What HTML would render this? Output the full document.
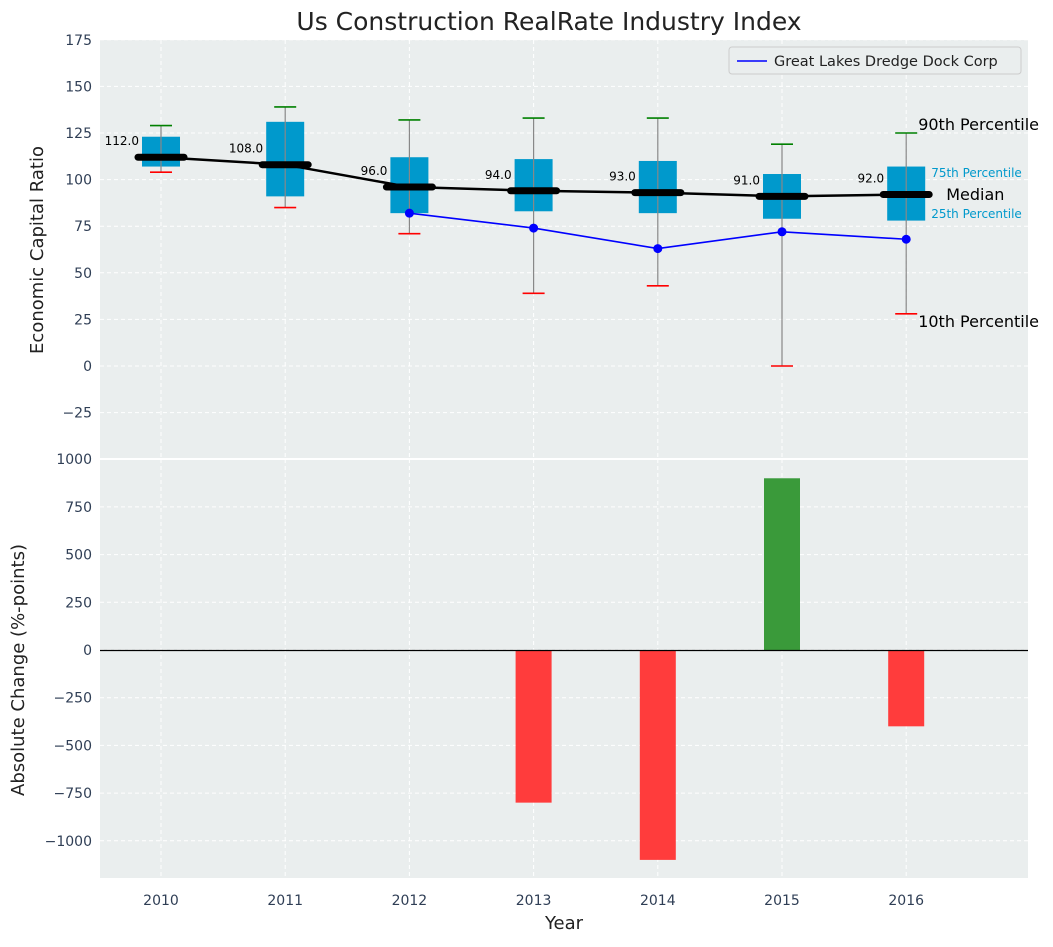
<!DOCTYPE html>
<html><head><meta charset="utf-8"><style>
body{margin:0;background:#fff;font-family:"Liberation Sans","DejaVu Sans",sans-serif}
svg text{font-family:"DejaVu Sans","Liberation Sans",sans-serif}
</style></head><body>
<svg id="c" width="1053" height="942" xmlns="http://www.w3.org/2000/svg"></svg>
<script>
const years=[2010,2011,2012,2013,2014,2015,2016];
const p10=[104,85,71,39,43,0,28];
const p25=[107,91,82,83,82,79,78];
const med=[112,108,96,94,93,91,92];
const p75=[123,131,112,111,110,103,107];
const p90=[129,139,132,133,133,119,125];
const compYears=[2012,2013,2014,2015,2016];
const compVals=[82,74,63,72,68];
const barYears=[2013,2014,2015,2016];
const barVals=[-800,-1100,900,-400];
const topTicks=[175,150,125,100,75,50,25,0,-25];
const botTicks=[1000,750,500,250,0,-250,-500,-750,-1000];

const NS='http://www.w3.org/2000/svg';
const svg=document.getElementById('c');
function el(t,a,txt){const e=document.createElementNS(NS,t);for(const k in a)e.setAttribute(k,a[k]);if(txt!==undefined)e.textContent=txt;svg.appendChild(e);return e;}
const L=100,R=1028;
const x=y=>161+(y-2010)*124.2;
const yT=v=>366-v*1.864;
const yB=v=>650-v*0.1908;
const T0=40,T1=459,B0=459,B1=878;

let e;
e=el('rect',{x:L,y:T0,width:R-L,height:T1-T0,fill:'#eaeeee'});


e=el('rect',{x:L,y:B0,width:R-L,height:B1-B0,fill:'#eaeeee'});


el('line',{x1:L,x2:R,y1:459,y2:459,stroke:'#fff','stroke-width':2});
topTicks.forEach(t=>{const Y=yT(t);el('line',{x1:L,x2:R,y1:Y,y2:Y,stroke:'#fff','stroke-dasharray':'4,3','stroke-width':1});
e=el('text',{x:L-8,y:Y+5,'text-anchor':'end','font-size':14,fill:'#2f3e55'},t<0?'\u2212'+(-t):t);
});
botTicks.forEach(t=>{const Y=yB(t);el('line',{x1:L,x2:R,y1:Y,y2:Y,stroke:'#fff','stroke-dasharray':'4,3','stroke-width':1});
e=el('text',{x:L-8,y:Y+5,'text-anchor':'end','font-size':14,fill:'#2f3e55'},t<0?'\u2212'+(-t):t);
});
years.forEach(yr=>{const X=x(yr);
el('line',{x1:X,x2:X,y1:T0,y2:T1,stroke:'#fff','stroke-dasharray':'4,3'});
el('line',{x1:X,x2:X,y1:B0,y2:B1,stroke:'#fff','stroke-dasharray':'4,3'});
e=el('text',{x:X,y:905,'text-anchor':'middle','font-size':14,fill:'#2f3e55'},yr);
});
years.forEach((yr,i)=>{const X=x(yr);
e=el('rect',{x:X-19,y:yT(p75[i]),width:38,height:yT(p25[i])-yT(p75[i]),fill:'#0099cc'});

el('line',{x1:X,x2:X,y1:yT(p90[i]),y2:yT(p10[i]),stroke:'#888','stroke-width':1.2});
el('line',{x1:X-11,x2:X+11,y1:yT(p90[i]),y2:yT(p90[i]),stroke:'green','stroke-width':1.6});
el('line',{x1:X-11,x2:X+11,y1:yT(p10[i]),y2:yT(p10[i]),stroke:'red','stroke-width':1.6});
});
e=el('polyline',{points:years.map((yr,i)=>x(yr)+','+yT(med[i])).join(' '),fill:'none',stroke:'#000','stroke-width':2.5});

years.forEach((yr,i)=>{const X=x(yr),Y=yT(med[i]);
el('line',{x1:X-23,x2:X+23,y1:Y,y2:Y,stroke:'#000','stroke-width':7,'stroke-linecap':'round'});
e=el('text',{x:X-22,y:Y-12,'text-anchor':'end','font-size':12,fill:'#000'},med[i].toFixed(1));
});
e=el('polyline',{points:compYears.map((yr,i)=>x(yr)+','+yT(compVals[i])).join(' '),fill:'none',stroke:'#0000ff','stroke-width':1.6});

compYears.forEach((yr,i)=>{e=el('circle',{cx:x(yr),cy:yT(compVals[i]),r:4.5,fill:'#0000ff'});
});
const lx=x(2016);
el('text',{x:lx+12,y:130,'font-size':16,fill:'#000'},'90th Percentile');
el('text',{x:lx+12,y:327,'font-size':16,fill:'#000'},'10th Percentile');
el('text',{x:lx+40,y:200,'font-size':16,fill:'#000'},'Median');
el('text',{x:lx+25,y:177,'font-size':12,fill:'#0099cc'},'75th Percentile');
el('text',{x:lx+25,y:218,'font-size':12,fill:'#0099cc'},'25th Percentile');
e=el('rect',{x:729,y:47,width:292,height:27,fill:'#eaeeee',stroke:'#ccc',rx:3});

el('line',{x1:737,x2:767,y1:61,y2:61,stroke:'#0000ff','stroke-width':1.6});
e=el('text',{x:774,y:66,'font-size':14.5,fill:'#222'},'Great Lakes Dredge Dock Corp');

barYears.forEach((yr,i)=>{const v=barVals[i],y0=yB(Math.max(v,0)),y1=yB(Math.min(v,0));
e=el('rect',{x:x(yr)-18,y:y0,width:36,height:y1-y0,fill:v>=0?'#3a9a3a':'#ff3c3c'});
});
e=el('line',{x1:L,x2:R,y1:650.5,y2:650.5,stroke:'#000','stroke-width':1.2});

e=el('text',{x:549,y:30,'text-anchor':'middle','font-size':25,fill:'#222'},'Us Construction RealRate Industry Index');

e=el('text',{x:564,y:929,'text-anchor':'middle','font-size':18,fill:'#222'},'Year');

e=el('text',{x:43,y:250,'text-anchor':'middle','font-size':18,fill:'#222',transform:'rotate(-90 43 250)'},'Economic Capital Ratio');

e=el('text',{x:24,y:670,'text-anchor':'middle','font-size':18,fill:'#222',transform:'rotate(-90 24 670)'},'Absolute Change (%-points)');

</script>
</body></html>
